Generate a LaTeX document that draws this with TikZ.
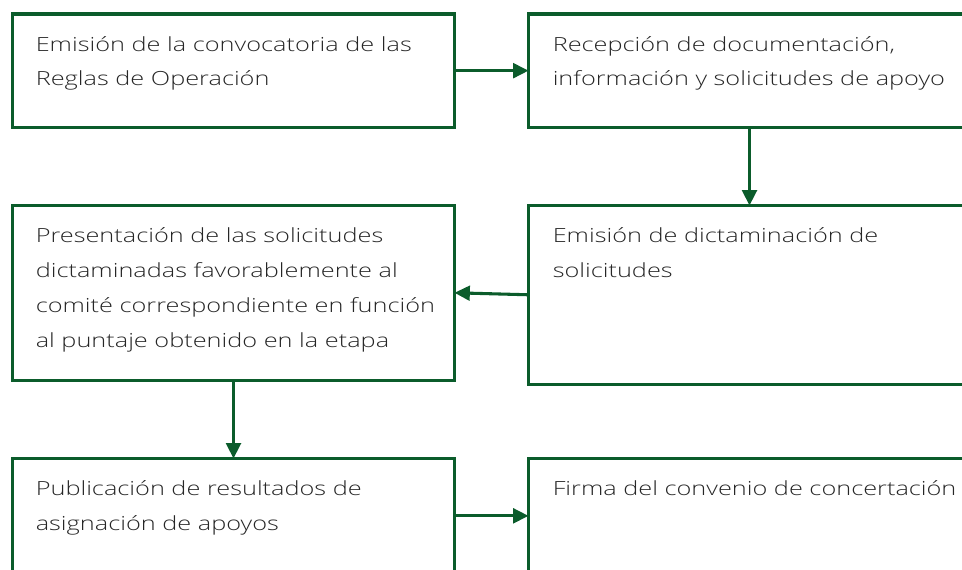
\documentclass[tikz,border=0pt]{standalone}
\usepackage{fontspec}
\setmainfont{Open Sans}[UprightFont=* Light, FakeStretch=1.3]
\usetikzlibrary{arrows.meta,calc}
\definecolor{leaf}{HTML}{0B5C2B}
\definecolor{ink}{HTML}{262626}
\newcommand{\steplines}[1]{\parbox[t]{320pt}{\raggedright #1}}

\begin{document}
\begin{tikzpicture}[
  x=0.75pt, y=-0.75pt,
  line join=miter,
  >={Triangle[length=11.5pt,width=11pt]},
  every node/.style={
    text=ink,
  },
  stepbox/.style={
    draw=leaf,
    line width=2.3pt,
    anchor=north west,
    outer sep=0pt,
    minimum width=331.5pt,
    minimum height=85pt,
  },
  steptxt/.style={
    anchor=base west,
    inner sep=0pt,
    font=\fontsize{14.6pt}{26.2pt}\selectfont,
  },
  arr/.style={
    ->,
    leaf,
    line width=2.3pt,
  },
]
\useasboundingbox (0,0) rectangle (962,569);
\clip (0,0) rectangle (962,569);

% --- boxes ---
\node[stepbox] (emision) at (12.5,14) {};
\node[stepbox] (recepcion) at (528.5,14) {};
\node[stepbox, minimum height=133.9pt] (dictamen) at (528.5,205.5) {};
\node[stepbox, minimum height=130.9pt] (presenta) at (12.5,205.5) {};
\node[stepbox, minimum height=86pt] (publica) at (12.5,458.5) {};
\node[stepbox, minimum height=86pt] (firma) at (528.5,458.5) {};

% --- texts ---
\node[steptxt] (emisiontxt) at ($(emision.north west)+(23,37)$)
  {\steplines{Emisión de la convocatoria de las\\Reglas de Operación}};
\node[steptxt] (recepciontxt) at ($(recepcion.north west)+(24,37)$)
  {\steplines{Recepción de documentación,\\información y solicitudes de apoyo}};
\node[steptxt] (dictamentxt) at ($(dictamen.north west)+(24,37)$)
  {\steplines{Emisión de dictaminación de\\solicitudes}};
\node[steptxt] (presentatxt) at ($(presenta.north west)+(23,37)$)
  {\steplines{Presentación de las solicitudes\\dictaminadas favorablemente al\\comité correspondiente en función\\al puntaje obtenido en la etapa}};
\node[steptxt] (publicatxt) at ($(publica.north west)+(23,37)$)
  {\steplines{Publicación de resultados de\\asignación de apoyos}};
\node[steptxt] (firmatxt) at ($(firma.north west)+(24,37)$)
  {\steplines{Firma del convenio de concertación}};

% --- arrows ---
\draw[arr] (emision.east) -- (recepcion.west);
\draw[arr] (recepcion.south) -- (dictamen.north);
\draw[arr] (dictamen.west) -- (presenta.east);
\draw[arr] (presenta.south) -- (publica.north);
\draw[arr] (publica.east) -- (firma.west);

\end{tikzpicture}
\end{document}
